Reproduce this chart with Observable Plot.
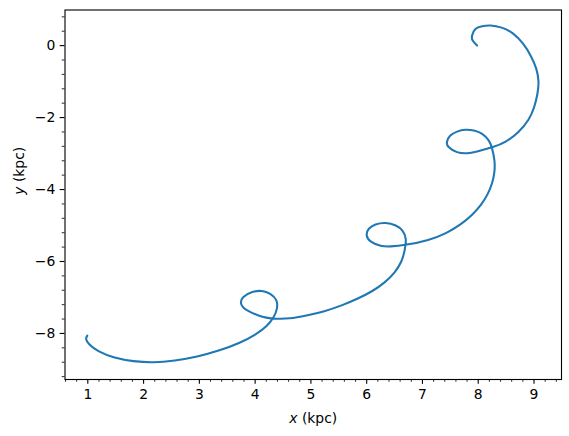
<!DOCTYPE html>
<html>
<head>
<meta charset="utf-8">
<script src="https://cdn.jsdelivr.net/npm/d3@7"></script>
<script src="https://cdn.jsdelivr.net/npm/@observablehq/plot@0.6"></script>
<style>
  html, body { margin: 0; padding: 0; background: #ffffff; }
  #chart svg { display: block; }
</style>
</head>
<body>
<div id="chart"></div>
<script>
// Orbit trace (kpc), in drawing order
const orbitX = [
  7.98, 7.90, 7.89, 7.95, 8.07, 8.22, 8.42, 8.62, 8.80, 8.94, 9.04, 9.08, 9.06, 9.00, 8.90, 8.72, 8.50, 8.26,
  7.98, 7.80, 7.62, 7.47, 7.44, 7.50, 7.62, 7.77, 7.92, 8.07, 8.19, 8.25,
  8.29, 8.29, 8.25, 8.17, 8.05, 7.89, 7.68, 7.42, 7.10, 6.72,
  6.43, 6.25, 6.07, 6.00, 6.04, 6.16, 6.34, 6.52, 6.64, 6.70,
  6.68, 6.62, 6.50, 6.32, 6.10, 5.84, 5.55, 5.24, 4.92, 4.62, 4.38, 4.20,
  4.06, 3.86, 3.75, 3.79, 3.95, 4.12, 4.27, 4.38, 4.39, 4.33,
  4.20, 4.00, 3.72, 3.36, 2.96, 2.56, 2.18, 1.82, 1.48, 1.20, 1.03, 0.97, 0.99
];
const orbitY = [
  0.00, 0.14, 0.28, 0.46, 0.54, 0.56, 0.50, 0.34, 0.06, -0.28, -0.64, -1.00, -1.35, -1.72, -2.06, -2.40, -2.66, -2.82,
  -2.94, -2.99, -2.96, -2.82, -2.67, -2.50, -2.39, -2.34, -2.36, -2.45, -2.64, -2.87,
  -3.19, -3.50, -3.81, -4.12, -4.42, -4.70, -4.97, -5.21, -5.40, -5.53,
  -5.58, -5.56, -5.44, -5.26, -5.09, -4.97, -4.93, -5.00, -5.14, -5.37,
  -5.69, -6.00, -6.30, -6.58, -6.82, -7.03, -7.22, -7.38, -7.50, -7.58, -7.59, -7.56,
  -7.50, -7.36, -7.18, -6.99, -6.85, -6.82, -6.90, -7.08, -7.31, -7.55,
  -7.80, -8.03, -8.26, -8.47, -8.64, -8.75, -8.80, -8.77, -8.67, -8.50, -8.31, -8.16, -8.06
];

// Axis ticks and labels
const xTicks = [1, 2, 3, 4, 5, 6, 7, 8, 9];
const yTicks = [-8, -6, -4, -2, 0];
const xMinorTicks = d3.range(0.6, 9.45, 0.2).map(v => +v.toFixed(1)).filter(v => !Number.isInteger(v));
const yMinorTicks = d3.range(-9.2, 0.9, 0.4).map(v => +v.toFixed(1)).filter(v => !yTicks.includes(v));
const xLabelVar = "x", xLabelUnit = " (kpc)";
const yLabelVar = "y", yLabelUnit = " (kpc)";

const rows = orbitX.map((x, i) => ({x, y: orbitY[i]}));

const font = "DejaVu Sans";
const fs = 13.9;

const chart = Plot.plot({
  width: 569,
  height: 436,
  marginLeft: 64.5,
  marginRight: 8,
  marginTop: 9.5,
  marginBottom: 57,
  style: {fontFamily: font, fontSize: fs + "px", background: "#ffffff", color: "#000"},
  x: {domain: [0.591, 9.493]},
  y: {domain: [-9.28, 0.99]},
  marks: [
    Plot.line(rows, {x: "x", y: "y", stroke: "#1f77b4", strokeWidth: 2.08, curve: "natural"}),
    Plot.frame({stroke: "#000", strokeWidth: 1.11}),
    Plot.axisX({ticks: xTicks, tickSize: 4.86, tickPadding: 5, strokeWidth: 1.11, tickFormat: d3.format("d"), fontSize: fs, label: null, anchor: "bottom"}),
    Plot.axisX({ticks: xMinorTicks, tickSize: 2.78, strokeWidth: 0.83, tickFormat: () => "", label: null, anchor: "bottom"}),
    Plot.axisY({ticks: yTicks, tickSize: 4.86, tickPadding: 4.9, strokeWidth: 1.11, tickFormat: d3.format("d"), fontSize: fs, label: null, anchor: "left"}),
    Plot.axisY({ticks: yMinorTicks, tickSize: 2.78, strokeWidth: 0.83, tickFormat: () => "", label: null, anchor: "left"}),
    Plot.text([xLabelVar + xLabelUnit], {frameAnchor: "bottom", dy: 38.7, text: d => d, fontSize: fs, lineAnchor: "middle", fill: "#000"}),
    Plot.text([yLabelVar + yLabelUnit], {frameAnchor: "left", dx: -45.5, rotate: -90, text: d => d, fontSize: fs, lineAnchor: "middle", fill: "#000"})
  ]
});

// italicise the math variable in the axis labels
d3.select(chart).selectAll("text").each(function () {
  const t = this.textContent;
  let v = null, u = null;
  if (t === xLabelVar + xLabelUnit) { v = xLabelVar; u = xLabelUnit; }
  else if (t === yLabelVar + yLabelUnit) { v = yLabelVar; u = yLabelUnit; }
  if (v === null) return;
  const sel = d3.select(this);
  sel.text(null);
  sel.append("tspan").attr("font-style", "italic").text(v);
  sel.append("tspan").text(u);
});

document.getElementById("chart").appendChild(chart);
</script>
</body>
</html>
